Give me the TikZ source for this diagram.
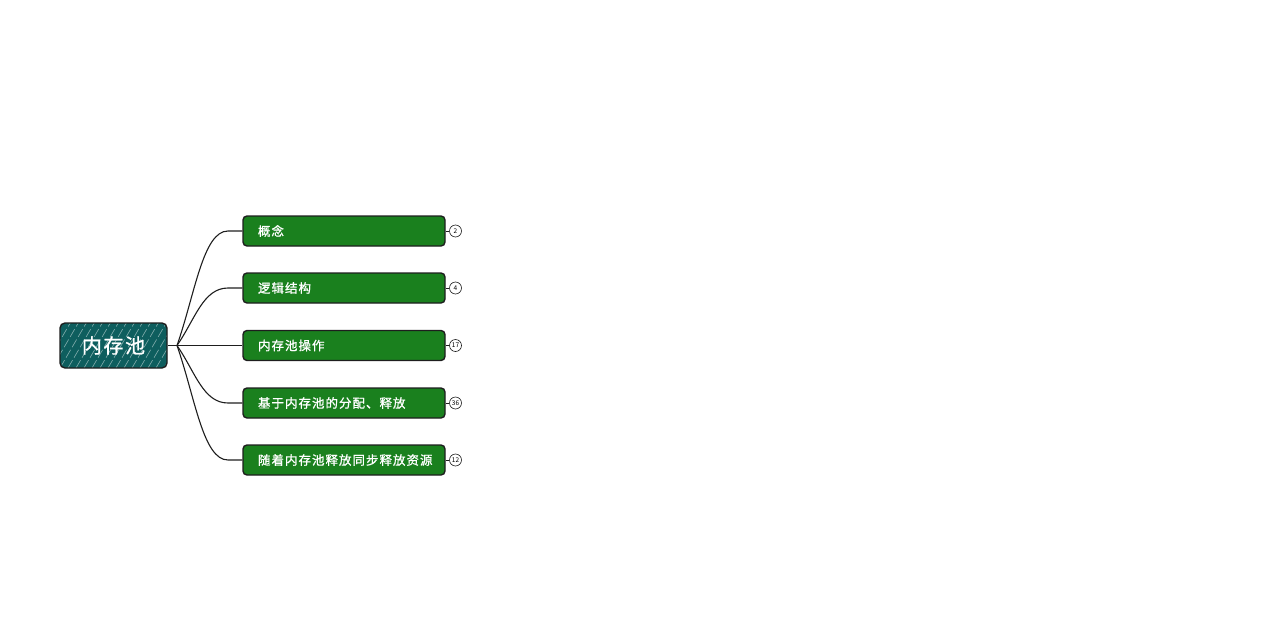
\documentclass[tikz,border=0pt]{standalone}
\usepackage{fontspec}
\newfontfamily\cjk{Noto Sans CJK SC}
\newfontfamily\cjkw[LetterSpace=8,FakeBold=1]{Noto Sans CJK SC}
\definecolor{rootfill}{RGB}{14,94,94}
\definecolor{boxfill}{RGB}{26,128,30}
\definecolor{edge}{RGB}{30,30,30}
\begin{document}
\begin{tikzpicture}[x=1pt,y=-1pt,
  root/.style={draw=edge, line width=1.4pt, fill=rootfill, rounded corners=5pt,
    minimum width=107pt, minimum height=45pt, inner sep=0pt, text=white,
    font=\cjkw\fontsize{20}{22}\selectfont,
    path picture={\foreach \k in {-40,-32,...,120}
      \draw[white, opacity=0.5, line width=0.6pt, dash pattern=on 9pt off 3pt]
        ([xshift=\k pt]path picture bounding box.south west) -- ++(28pt,48pt);}},
  topic/.style={draw=edge, line width=1.4pt, fill=boxfill, rounded corners=4pt,
    text width=172pt, align=left, inner xsep=15pt, inner ysep=0pt,
    minimum height=30pt, text=white, font=\cjkw\fontsize{12.5}{14}\selectfont},
  badge/.style={circle, draw=edge, line width=0.6pt, fill=white, minimum size=12pt,
    inner sep=0pt, font=\cjk\fontsize{6.5}{7}\selectfont},
  conn/.style={draw=edge, line width=1.1pt},
  link/.style={draw=edge, line width=0.6pt}]
\useasboundingbox (0,0) rectangle (1280,640);
\node[root] (root) at (113.5,345.5) {内存池};
\coordinate (hub) at (177,345.5);
\draw[conn] (root.east) -- (hub);
\foreach \i/\y/\t/\n in {1/231/概念/2, 2/288/逻辑结构/4, 3/345.5/内存池操作/17,
    4/403/基于内存池的分配、释放/36, 5/460/随着内存池释放同步释放资源/12}{
  \node[topic] (t\i) at (344,\y) {\t};
  \node[badge] (c\i) at (455.5,\y) {\n};
  \draw[link] (t\i.east) -- (c\i.west);
  \draw[conn] (hub) .. controls ({195},{345.5+0.45*(\y-345.5)}) and (203,\y) .. (228,\y) -- (t\i.west);
}
\end{tikzpicture}
\end{document}
